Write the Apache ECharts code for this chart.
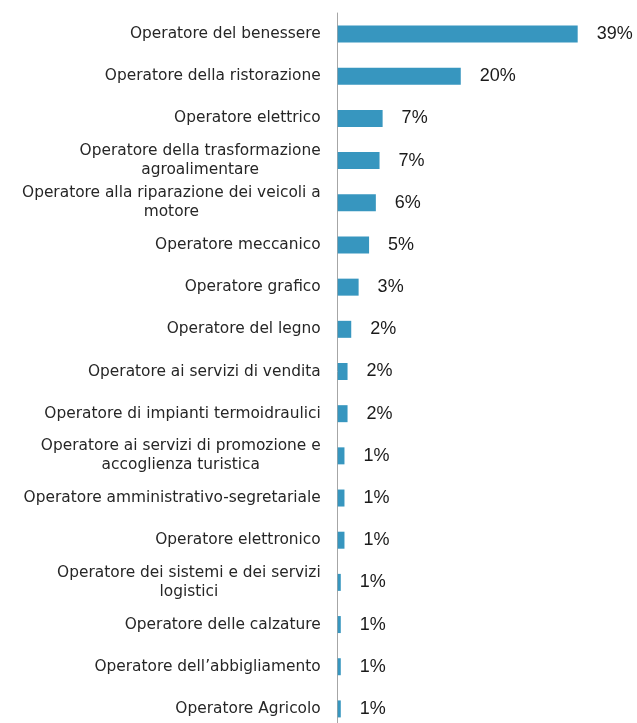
<!DOCTYPE html>
<html>
<head>
<meta charset="utf-8">
<script src="https://cdn.jsdelivr.net/npm/echarts@6/dist/echarts.min.js"></script>
<style>
html,body{margin:0;padding:0;background:#fff;overflow:hidden;}
#chart{width:637px;height:730px;}
</style>
</head>
<body>
<div id="chart"></div>
<script>
// Categories (top to bottom)
const categories = [
  "Operatore del benessere",
  "Operatore della ristorazione",
  "Operatore elettrico",
  "Operatore della trasformazione\nagroalimentare",
  "Operatore alla riparazione dei veicoli a\nmotore",
  "Operatore meccanico",
  "Operatore grafico",
  "Operatore del legno",
  "Operatore ai servizi di vendita",
  "Operatore di impianti termoidraulici",
  "Operatore ai servizi di promozione e\naccoglienza turistica",
  "Operatore amministrativo-segretariale",
  "Operatore elettronico",
  "Operatore dei sistemi e dei servizi\nlogistici",
  "Operatore delle calzature",
  "Operatore dell\u2019abbigliamento",
  "Operatore Agricolo"
];
// Values (%)
const values = [39.0, 20.0, 7.3, 6.8, 6.2, 5.1, 3.4, 2.2, 1.6, 1.6, 1.1, 1.1, 1.1, 0.5, 0.5, 0.5, 0.5];
// Printed value labels
const valueLabels = ["39%", "20%", "7%", "7%", "6%", "5%", "3%", "2%", "2%", "2%", "1%", "1%", "1%", "1%", "1%", "1%", "1%"];

const chart = echarts.init(document.getElementById('chart'), null, {renderer: 'canvas'});
const catFont = 'DejaVu Sans';
chart.setOption({
  animation: false,
  grid: {left: 337.7, top: 13, right: 22.4, bottom: 0, containLabel: false},
  xAxis: {
    type: 'value', min: 0, max: 45,
    show: false
  },
  yAxis: {
    type: 'category',
    inverse: true,
    data: categories,
    axisLine: {show: true, lineStyle: {color: '#a6a6a6', width: 1}},
    axisTick: {show: false},
    axisLabel: {
      margin: 17,
      formatter: function (v) {
        return v.split('\n').map(s => '{c|' + s + '}').join('\n');
      },
      rich: {
        c: {
          fontFamily: catFont, fontSize: 15.4, color: '#262626',
          align: 'center', lineHeight: 19
        }
      }
    }
  },
  series: [{
    type: 'bar',
    data: values,
    barWidth: 17,
    itemStyle: {color: '#3796BF'},
    label: {
      show: true, position: 'right', distance: 19,
      fontFamily: 'Liberation Sans', fontSize: 18, color: '#1a1a1a',
      formatter: function (p) { return valueLabels[p.dataIndex]; }
    }
  }]
});
</script>
</body>
</html>
